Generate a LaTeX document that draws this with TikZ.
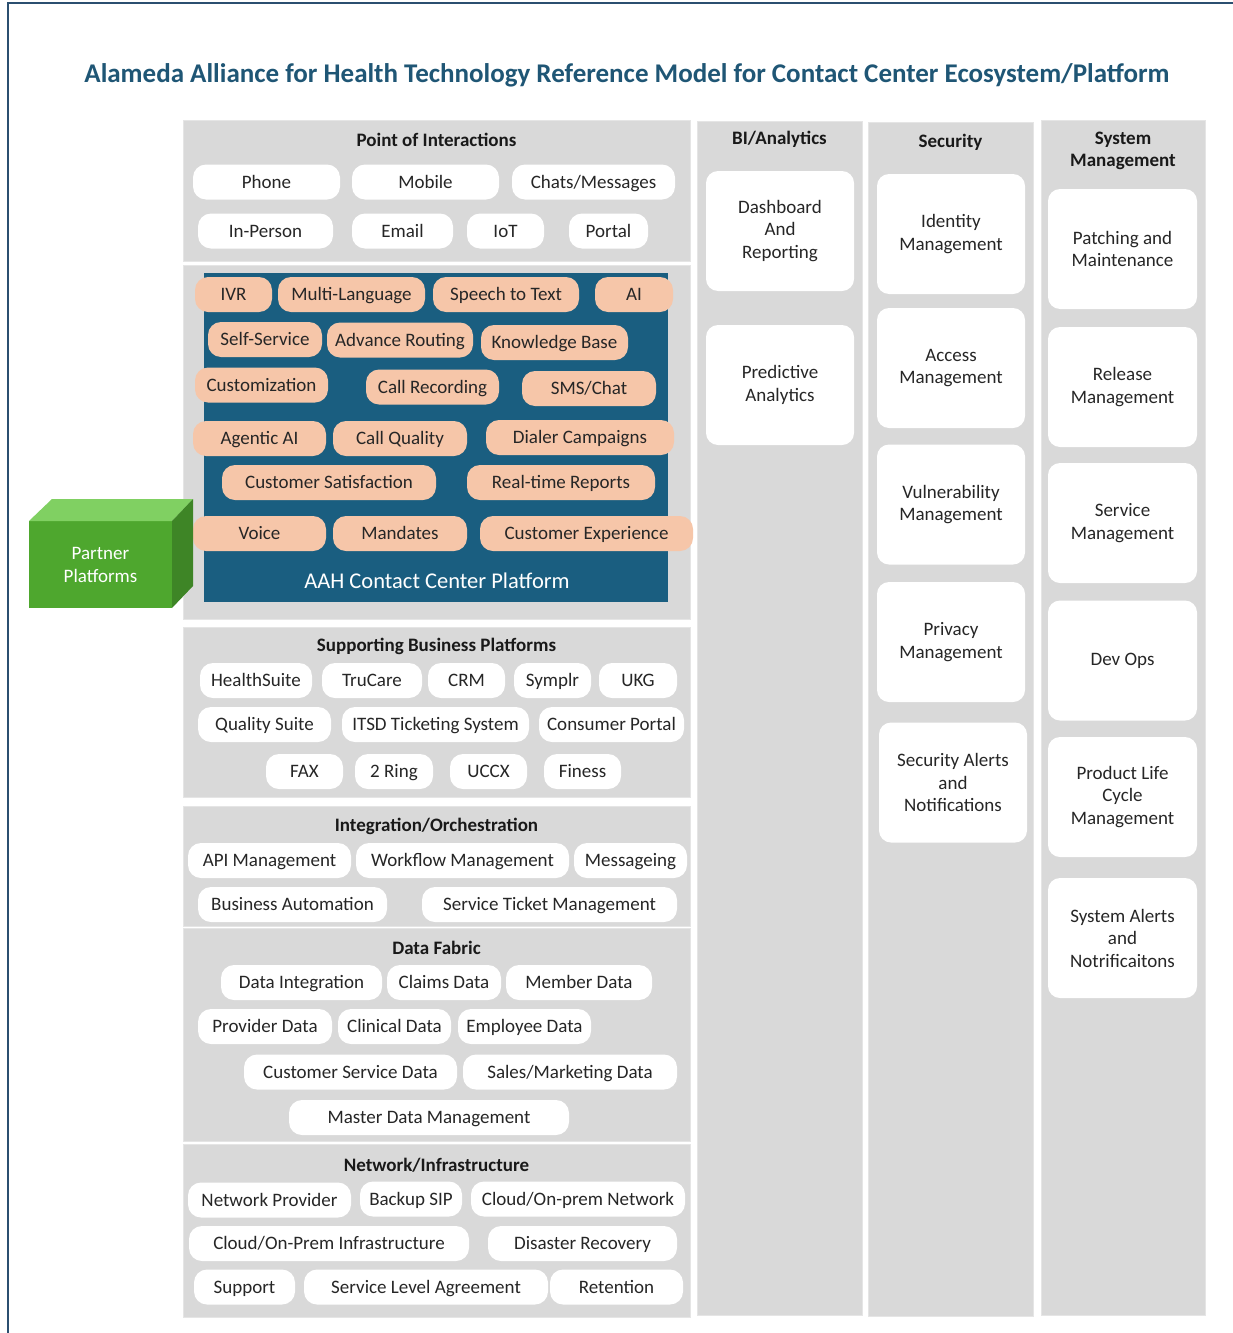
\documentclass[tikz,border=0pt]{standalone}
\usepackage{fontspec}
\setmainfont{Carlito}
\definecolor{aahtitle}{HTML}{1F5675}
\definecolor{aahframe}{HTML}{2B4F70}
\definecolor{aahgray}{HTML}{D9D9D9}
\definecolor{aahblue}{HTML}{1A5E80}
\definecolor{aahpeach}{HTML}{F6C6A9}
\definecolor{aahgreen}{HTML}{4EA72E}
\definecolor{aahgreenlt}{HTML}{80D062}
\definecolor{aahgreendk}{HTML}{3E8526}

\begin{document}
\begin{tikzpicture}[
  x=1pt, y=-1pt,
  panel/.style={fill=aahgray, draw=white!90!black, line width=0.6pt},
  pill/.style={fill=white, rounded corners=13pt, minimum height=35pt, inner sep=0pt,
               text height=14pt, text depth=1.5pt,
               font=\fontsize{19}{22}\selectfont, text=black!85},
  chip/.style={pill, fill=aahpeach},
  tile/.style={fill=white, rounded corners=12pt, minimum width=148pt, minimum height=120pt,
               inner sep=0pt, align=center, font=\fontsize{19}{22.5}\selectfont, text=black!85},
  hdr/.style={font=\fontsize{19}{22}\selectfont\bfseries, text=black!90, align=center},
]
\useasboundingbox (0,0) rectangle (1233,1333);
\fill[white] (0,0) rectangle (1233,1333);

%% Frame and title
\draw[aahframe, line width=2.5pt] (8,1333) -- (8,3) -- (1233,3);
\node[font=\fontsize{27}{30}\selectfont\bfseries, text=aahtitle] (title) at (627,75)
  {Alameda Alliance for Health Technology Reference Model for Contact Center Ecosystem/Platform};

%% Gray panels
\fill[panel] (183,120) rectangle (690,261);
\fill[panel] (183,265) rectangle (690,619);
\fill[panel] (183,627) rectangle (690,797);
\fill[panel] (183,806) rectangle (690,926);
\fill[panel] (183,928) rectangle (690,1141);
\fill[panel] (183,1144) rectangle (690,1317);
\fill[panel] (697,121) rectangle (862,1315);
\fill[panel] (868,122) rectangle (1033,1316);
\fill[panel] (1041,120) rectangle (1205,1315);

%% Point of interactions
\node[hdr] (poi) at (436.5,140) {Point of Interactions};
\node[pill, minimum width=147] (phone)    at (266.5,182) {Phone};
\node[pill, minimum width=147] (mobile)   at (425.5,182) {Mobile};
\node[pill, minimum width=163] (chats)    at (593.5,182) {Chats/Messages};
\node[pill, minimum width=135] (inperson) at (265.5,231) {In-Person};
\node[pill, minimum width=101] (email)    at (402.5,231) {Email};
\node[pill, minimum width=77]  (iot)      at (505.5,231) {IoT};
\node[pill, minimum width=79]  (portal)   at (608.5,231) {Portal};

%% Contact center platform
\fill[aahblue] (204,273) rectangle (668,602);
\node[chip, minimum width=77]  (ivr)       at (233.5,294.5) {IVR};
\node[chip, minimum width=147] (multilang) at (351.5,294.5) {Multi-Language};
\node[chip, minimum width=146] (speech)    at (506,294.5)   {Speech to Text};
\node[chip, minimum width=78]  (ai)        at (634,294.5)   {AI};
\node[chip, minimum width=114] (selfsvc)   at (265,339.5)   {Self-Service};
\node[chip, minimum width=146] (routing)   at (400,340)     {Advance Routing};
\node[chip, minimum width=147] (kbase)     at (554.5,342.5) {Knowledge Base};
\node[chip, minimum width=133] (custom)    at (261.5,385)   {Customization};
\node[chip, minimum width=133] (callrec)   at (432.5,387)   {Call Recording};
\node[chip, minimum width=134] (smschat)   at (589,388.5)   {SMS/Chat};
\node[chip, minimum width=133] (agentic)   at (259.5,438.5) {Agentic AI};
\node[chip, minimum width=134] (callq)     at (400,438.5)   {Call Quality};
\node[chip, minimum width=188] (dialer)    at (580,437.5)   {Dialer Campaigns};
\node[chip, minimum width=214] (csat)      at (329,482.5)   {Customer Satisfaction};
\node[chip, minimum width=188] (rtreports) at (561,482.5)   {Real-time Reports};
\node[chip, minimum width=133] (voice)     at (259.5,533.5) {Voice};
\node[chip, minimum width=134] (mandates)  at (400,533.5)   {Mandates};
\node[chip, minimum width=213] (cx)        at (586.5,533.5) {Customer Experience};
\node[font=\fontsize{22.5}{26}\selectfont, text=white] (ccp) at (437,581) {AAH Contact Center Platform};

%% Partner platforms block
\fill[aahgreen] (29,521) rectangle (172,608);
\fill[aahgreenlt] (29,521) -- (52,499) -- (193,499) -- (172,521) -- cycle;
\fill[aahgreendk] (172,521) -- (193,499) -- (193,586) -- (172,608) -- cycle;
\node[font=\fontsize{19}{23}\selectfont, text=white, align=center] (partner) at (100.5,565)
  {Partner\\Platforms};

%% Supporting business platforms
\node[hdr] (sbp) at (436.5,646) {Supporting Business Platforms};
\node[pill, minimum width=112] (healthsuite) at (256,680.5)   {HealthSuite};
\node[pill, minimum width=100] (trucare)     at (372,680.5)   {TruCare};
\node[pill, minimum width=77]  (crm)         at (466.5,680.5) {CRM};
\node[pill, minimum width=77]  (symplr)      at (552.5,680.5) {Symplr};
\node[pill, minimum width=78]  (ukg)         at (638,680.5)   {UKG};
\node[pill, minimum width=133] (quality)     at (264.5,724.5) {Quality Suite};
\node[pill, minimum width=187] (itsd)        at (435.5,724.5) {ITSD Ticketing System};
\node[pill, minimum width=145] (consumer)    at (611.5,724.5) {Consumer Portal};
\node[pill, minimum width=77]  (fax)         at (304.5,771.5) {FAX};
\node[pill, minimum width=78]  (tworing)     at (394,771.5)   {2 Ring};
\node[pill, minimum width=77]  (uccx)        at (488.5,771.5) {UCCX};
\node[pill, minimum width=77]  (finess)      at (582.5,771.5) {Finess};

%% Integration / orchestration
\node[hdr] (intg) at (436.5,826) {Integration/Orchestration};
\node[pill, minimum width=163] (api)       at (269.5,860.5) {API Management};
\node[pill, minimum width=213] (workflow)  at (462.5,860.5) {Workflow Management};
\node[pill, minimum width=113] (messaging) at (630.5,860.5) {Messageing};
\node[pill, minimum width=189] (bizauto)   at (292.5,904.5) {Business Automation};
\node[pill, minimum width=255] (ticket)    at (549.5,904.5) {Service Ticket Management};

%% Data fabric
\node[hdr] (dfab) at (436.5,948) {Data Fabric};
\node[pill, minimum width=161] (dataint)  at (301.5,982.5)  {Data Integration};
\node[pill, minimum width=114] (claims)   at (444,982.5)    {Claims Data};
\node[pill, minimum width=146] (member)   at (579,982.5)    {Member Data};
\node[pill, minimum width=134] (provider) at (265,1026.5)   {Provider Data};
\node[pill, minimum width=113] (clinical) at (394.5,1026.5) {Clinical Data};
\node[pill, minimum width=133] (employee) at (524.5,1026.5) {Employee Data};
\node[pill, minimum width=213] (custsvc)  at (350.5,1072)   {Customer Service Data};
\node[pill, minimum width=214] (sales)    at (570,1072)     {Sales/Marketing Data};
\node[pill, minimum width=280] (mdm)      at (429,1117.5)   {Master Data Management};

%% Network / infrastructure
\node[hdr] (netw) at (436.5,1165) {Network/Infrastructure};
\node[pill, minimum width=163] (netprov)    at (269.5,1200)  {Network Provider};
\node[pill, minimum width=102] (backup)     at (411,1199)    {Backup SIP};
\node[pill, minimum width=214] (cloudnet)   at (578,1199)    {Cloud/On-prem Network};
\node[pill, minimum width=280] (cloudinfra) at (329,1243.5)  {Cloud/On-Prem Infrastructure};
\node[pill, minimum width=189] (dr)         at (582.5,1243.5){Disaster Recovery};
\node[pill, minimum width=101] (support)    at (244.5,1287)  {Support};
\node[pill, minimum width=244] (sla)        at (426,1287)    {Service Level Agreement};
\node[pill, minimum width=133] (retention)  at (616.5,1287)  {Retention};

%% BI / analytics column
\node[hdr] (bi) at (779.5,139) {BI/Analytics};
\node[tile] (dash)    at (780,231) {Dashboard\\And\\Reporting};
\node[tile] (predict) at (780,385) {Predictive\\Analytics};

%% Security column
\node[hdr] (sec) at (950.5,142) {Security};
\node[tile] (identity)  at (951,234)   {Identity\\Management};
\node[tile] (access)    at (951,368)   {Access\\Management};
\node[tile] (vuln)      at (951,504.5) {Vulnerability\\Management};
\node[tile] (privacy)   at (951,642)   {Privacy\\Management};
\node[tile] (secalerts) at (953,782.5) {Security Alerts\\and\\Notifications};

%% System management column
\node[hdr] (sysm) at (1123,151) {System\\Management};
\node[tile, minimum width=149] (patching)  at (1122.5,249)   {Patching and\\Maintenance};
\node[tile, minimum width=149] (release)   at (1122.5,387)   {Release\\Management};
\node[tile, minimum width=149] (service)   at (1122.5,523)   {Service\\Management};
\node[tile, minimum width=149] (devops)    at (1122.5,660.5) {Dev Ops};
\node[tile, minimum width=149] (plc)       at (1122.5,797)   {Product Life\\Cycle\\Management};
\node[tile, minimum width=149] (sysalerts) at (1122.5,938)   {System Alerts\\and\\Notrificaitons};

\end{tikzpicture}
\end{document}
